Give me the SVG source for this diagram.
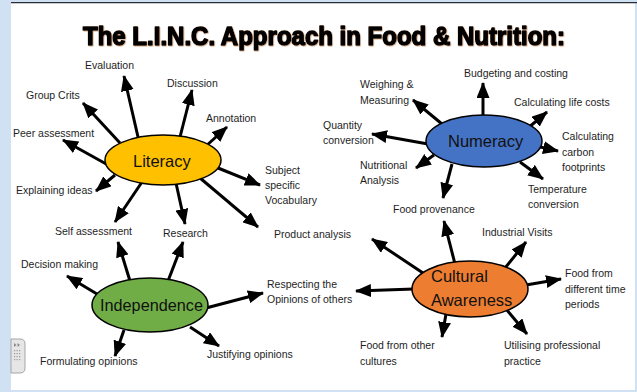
<svg xmlns="http://www.w3.org/2000/svg" width="637" height="392" viewBox="0 0 637 392">
  <style>
    .lbl { font-family: "Liberation Sans", Arial, sans-serif; font-size: 10.5px; fill: #1e1e1e; }
    .hub { font-family: "Liberation Sans", Arial, sans-serif; font-size: 16.5px; fill: #111; }
    .hubshape { stroke: #000; stroke-width: 1.5; }
    .arrow { stroke: #000; stroke-width: 3; fill: none; marker-end: url(#head); }
    .title { font-family: "Liberation Sans", Arial, sans-serif; font-weight: bold; font-size: 25px; fill: #000; stroke: #000; stroke-width: 1.5; stroke-linejoin: round; }
  </style>
  <defs>
    <marker id="head" viewBox="0 0 16 13" markerWidth="16" markerHeight="13" refX="15" refY="6.5" orient="auto" markerUnits="userSpaceOnUse">
      <path d="M0,0 L16,6.5 L0,13 z" fill="#000"/>
    </marker>
    <filter id="shadow" x="-5%" y="-30%" width="110%" height="160%">
      <feDropShadow dx="0.7" dy="0.7" stdDeviation="0.3" flood-color="#a8652e" flood-opacity="0.55"/>
    </filter>
  </defs>

  <!-- page frame -->
  <rect x="0" y="0" width="637" height="392" fill="#ffffff"/>
  <rect x="0" y="0" width="637" height="2" fill="#cfe1f3"/>
  <rect x="0" y="0" width="11" height="392" fill="#cfe1f3"/>
  <rect x="635" y="0" width="2" height="392" fill="#cfe1f3"/>
  <rect x="0" y="390" width="637" height="2" fill="#cfe1f3"/>
  <line x1="11" y1="2.6" x2="637" y2="2.6" stroke="#2a2d33" stroke-width="1.4"/>

  <!-- side handle -->
  <g id="side-handle">
    <path d="M11,339 H20 Q25,339 25,344 V368 Q25,373 20,373 H11 Z" fill="#e6e6e6" stroke="#a5a5a5" stroke-width="1"/>
    <path d="M14,343 L16.5,345 L14,347 Z M17.5,343 L20,345 L17.5,347 Z" fill="#8a8a8a"/>
    <g fill="#9a9a9a">
      <rect x="14" y="350" width="1.2" height="1.2"/><rect x="16.5" y="350" width="1.2" height="1.2"/><rect x="19" y="350" width="1.2" height="1.2"/>
      <rect x="14" y="353" width="1.2" height="1.2"/><rect x="16.5" y="353" width="1.2" height="1.2"/><rect x="19" y="353" width="1.2" height="1.2"/>
      <rect x="14" y="356" width="1.2" height="1.2"/><rect x="16.5" y="356" width="1.2" height="1.2"/><rect x="19" y="356" width="1.2" height="1.2"/>
      <rect x="14" y="359" width="1.2" height="1.2"/><rect x="16.5" y="359" width="1.2" height="1.2"/><rect x="19" y="359" width="1.2" height="1.2"/>
    </g>
  </g>

  <!-- heading -->
  <text class="title" x="83" y="45" textLength="482" lengthAdjust="spacingAndGlyphs" filter="url(#shadow)">The L.I.N.C. Approach in Food &amp; Nutrition:</text>

  <!-- connectors: start on a hub, tip at a label -->
  <g id="connectors">
    <!-- Literacy -->
    <line class="arrow" x1="138" y1="137" x2="124" y2="76"/>
    <line class="arrow" x1="180" y1="137" x2="192" y2="90"/>
    <line class="arrow" x1="120" y1="143" x2="83" y2="103"/>
    <line class="arrow" x1="206" y1="146" x2="227" y2="127"/>
    <line class="arrow" x1="108" y1="165" x2="63" y2="140"/>
    <line class="arrow" x1="218" y1="168" x2="260" y2="185"/>
    <line class="arrow" x1="115" y1="175" x2="96" y2="191"/>
    <line class="arrow" x1="142" y1="182" x2="115" y2="222"/>
    <line class="arrow" x1="176" y1="183" x2="185" y2="224"/>
    <line class="arrow" x1="200" y1="178" x2="258" y2="227"/>
    <!-- Independence -->
    <line class="arrow" x1="102" y1="297" x2="67" y2="276"/>
    <line class="arrow" x1="130" y1="281" x2="118" y2="242"/>
    <line class="arrow" x1="168" y1="281" x2="183" y2="242"/>
    <line class="arrow" x1="206" y1="308" x2="263" y2="293"/>
    <line class="arrow" x1="124" y1="330" x2="115" y2="356"/>
    <line class="arrow" x1="190" y1="327" x2="219" y2="346"/>
    <!-- Numeracy -->
    <line class="arrow" x1="483" y1="117" x2="483" y2="83"/>
    <line class="arrow" x1="442" y1="124" x2="413" y2="100"/>
    <line class="arrow" x1="528" y1="128" x2="547" y2="112"/>
    <line class="arrow" x1="428" y1="144" x2="372" y2="134"/>
    <line class="arrow" x1="536" y1="146" x2="558" y2="151"/>
    <line class="arrow" x1="434" y1="155" x2="416" y2="168"/>
    <line class="arrow" x1="520" y1="162" x2="543" y2="179"/>
    <line class="arrow" x1="452" y1="164" x2="443" y2="198"/>
    <!-- Cultural Awareness -->
    <line class="arrow" x1="455" y1="264" x2="444" y2="221"/>
    <line class="arrow" x1="423" y1="273" x2="372" y2="239"/>
    <line class="arrow" x1="505" y1="268" x2="526" y2="242"/>
    <line class="arrow" x1="414" y1="289" x2="356" y2="291"/>
    <line class="arrow" x1="526" y1="285" x2="561" y2="279"/>
    <line class="arrow" x1="446" y1="314" x2="442" y2="337"/>
    <line class="arrow" x1="506" y1="309" x2="527" y2="334"/>
  </g>

  <!-- hubs -->
  <g id="literacy">
    <ellipse class="hubshape" cx="163" cy="160" rx="58" ry="25" fill="#ffc000"/>
    <text class="hub" x="133" y="167">Literacy</text>
  </g>
  <g id="independence">
    <ellipse class="hubshape" cx="150" cy="305" rx="58" ry="27" fill="#70ad47"/>
    <text class="hub" x="100" y="311" textLength="103" lengthAdjust="spacingAndGlyphs">Independence</text>
  </g>
  <g id="numeracy">
    <ellipse class="hubshape" cx="484" cy="141" rx="58" ry="26" fill="#4472c4"/>
    <text class="hub" x="448" y="147">Numeracy</text>
  </g>
  <g id="cultural-awareness">
    <ellipse class="hubshape" cx="470" cy="289" rx="58" ry="28" fill="#ed7d31"/>
    <text class="hub" x="431" y="282">Cultural</text>
    <text class="hub" x="431" y="306">Awareness</text>
  </g>

  <!-- Literacy labels -->
  <g id="evaluation"><text class="lbl" x="85" y="69">Evaluation</text></g>
  <g id="group-crits"><text class="lbl" x="26" y="99">Group Crits</text></g>
  <g id="discussion"><text class="lbl" x="167" y="87">Discussion</text></g>
  <g id="annotation"><text class="lbl" x="206" y="122">Annotation</text></g>
  <g id="peer-assessment"><text class="lbl" x="13" y="137">Peer assessment</text></g>
  <g id="explaining-ideas"><text class="lbl" x="16" y="194">Explaining ideas</text></g>
  <g id="subject-vocabulary">
    <text class="lbl" x="265" y="174">Subject</text>
    <text class="lbl" x="265" y="189">specific</text>
    <text class="lbl" x="265" y="204">Vocabulary</text>
  </g>
  <g id="self-assessment"><text class="lbl" x="55" y="235">Self assessment</text></g>
  <g id="research"><text class="lbl" x="163" y="237">Research</text></g>
  <g id="product-analysis"><text class="lbl" x="274" y="238">Product analysis</text></g>

  <!-- Independence labels -->
  <g id="decision-making"><text class="lbl" x="21" y="268">Decision making</text></g>
  <g id="respecting-opinions">
    <text class="lbl" x="267" y="288">Respecting the</text>
    <text class="lbl" x="267" y="303">Opinions of others</text>
  </g>
  <g id="formulating-opinions"><text class="lbl" x="40" y="365">Formulating opinions</text></g>
  <g id="justifying-opinions"><text class="lbl" x="207" y="358">Justifying opinions</text></g>

  <!-- Numeracy labels -->
  <g id="budgeting"><text class="lbl" x="464" y="77">Budgeting and costing</text></g>
  <g id="weighing">
    <text class="lbl" x="360" y="88">Weighing &amp;</text>
    <text class="lbl" x="360" y="104">Measuring</text>
  </g>
  <g id="life-costs"><text class="lbl" x="514" y="106">Calculating life costs</text></g>
  <g id="quantity">
    <text class="lbl" x="323" y="129">Quantity</text>
    <text class="lbl" x="323" y="144">conversion</text>
  </g>
  <g id="carbon">
    <text class="lbl" x="562" y="140">Calculating</text>
    <text class="lbl" x="562" y="156">carbon</text>
    <text class="lbl" x="562" y="171">footprints</text>
  </g>
  <g id="nutritional">
    <text class="lbl" x="360" y="169">Nutritional</text>
    <text class="lbl" x="360" y="184">Analysis</text>
  </g>
  <g id="temperature">
    <text class="lbl" x="528" y="193">Temperature</text>
    <text class="lbl" x="528" y="208">conversion</text>
  </g>
  <g id="food-provenance"><text class="lbl" x="393" y="213">Food provenance</text></g>

  <!-- Cultural Awareness labels -->
  <g id="industrial-visits"><text class="lbl" x="482" y="236">Industrial Visits</text></g>
  <g id="food-time-periods">
    <text class="lbl" x="565" y="277">Food from</text>
    <text class="lbl" x="565" y="293">different time</text>
    <text class="lbl" x="565" y="308">periods</text>
  </g>
  <g id="food-other-cultures">
    <text class="lbl" x="360" y="349">Food from other</text>
    <text class="lbl" x="360" y="365">cultures</text>
  </g>
  <g id="professional-practice">
    <text class="lbl" x="504" y="349">Utilising professional</text>
    <text class="lbl" x="504" y="365">practice</text>
  </g>
</svg>
